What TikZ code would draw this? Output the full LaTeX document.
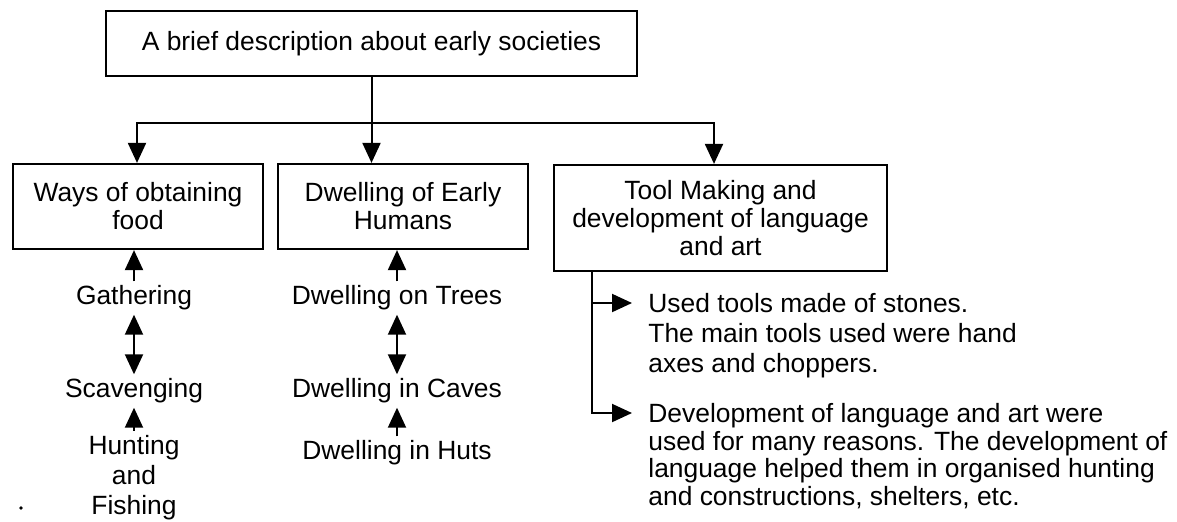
\documentclass[tikz,border=0pt]{standalone}
\usepackage{fontspec}
\setmainfont{Liberation Sans}
\usetikzlibrary{arrows.meta,calc}
\newcommand{\txt}[1]{\fontsize{13.2pt}{#1}\selectfont}
\tikzset{
  box/.style={draw, line width=1.1pt, align=center, inner sep=2pt, font=\txt{14pt}},
  lbl/.style={inner sep=2pt, align=center, font=\txt{15pt}},
  para/.style={inner sep=0pt, align=left, anchor=north west},
  link/.style={line width=1pt},
  arr/.style={link, -{Triangle[length=10pt,width=9pt]}},
  darr/.style={link, {Triangle[length=10pt,width=9pt]}-{Triangle[length=10pt,width=9pt]}},
}
\begin{document}
\begin{tikzpicture}[x=0.5pt,y=-0.5pt]
\useasboundingbox (0,0) rectangle (1177,521);

% boxes
\node[box, minimum width=265.5pt, minimum height=32.5pt] (top) at (371.5,43.5)
  {A brief description about early societies};
\node[box, minimum width=125pt, minimum height=42.5pt] (food) at (138,206.5)
  {Ways of obtaining\\food};
\node[box, minimum width=125pt, minimum height=42.5pt] (dwell) at (403,206.5)
  {Dwelling of Early\\Humans};
\node[box, minimum width=166.5pt, minimum height=53pt] (tool) at (720.5,218)
  {Tool Making and\\development of language\\and art};

% distribution bus from the title box
\coordinate (bus) at (371.5,123);
\draw[link] (top.south) -- (bus);
\draw[arr] (bus) -| ([xshift=-0.5pt]food.north);
\draw[arr] (bus) -- (bus |- dwell.north);
\draw[arr] (bus) -| ([xshift=-3.25pt]tool.north);

% ways of obtaining food
\node[lbl] (gath) at (134,298) {Gathering};
\node[lbl] (scav) at (134,391) {Scavenging};
\node[lbl] (hunt) at (134,477.5) {Hunting\\and\\Fishing};
\draw[arr] (gath.north) -- (gath.north |- food.south);
\draw[darr] (gath.south) -- (scav.north);
\draw[arr] (hunt.north) -- (scav.south);

% dwellings
\node[lbl] (trees) at (397,298) {Dwelling on Trees};
\node[lbl] (caves) at (397,391) {Dwelling in Caves};
\node[lbl] (huts) at (397,453) {Dwelling in Huts};
\draw[arr] (trees.north) -- (trees.north |- dwell.south);
\draw[darr] (trees.south) -- (caves.north);
\draw[arr] (huts.north) -- (caves.south);

% tool making and language
\node[para, font=\txt{15pt}] (stone) at (648,293.3)
  {Used tools made of stones.\\The main tools used were hand\\axes and choppers.};
\node[para, font=\txt{13.75pt}] (lang) at (648,403.3)
  {Development of language and art were\\used for many reasons. The development of\\language helped them in organised hunting\\and constructions, shelters, etc.};
\coordinate (stoneIn) at ([xshift=-8pt,yshift=-4.85pt]stone.north west);
\coordinate (langIn) at ([xshift=-8pt,yshift=-4.85pt]lang.north west);
\coordinate (trunk) at (592,0);
\draw[arr] (tool.south -| trunk) |- (stoneIn);
\draw[arr] (tool.south -| trunk) |- (langIn);

% stray mark at the lower left
\fill (21,508) circle[radius=0.9pt];
\end{tikzpicture}
\end{document}
